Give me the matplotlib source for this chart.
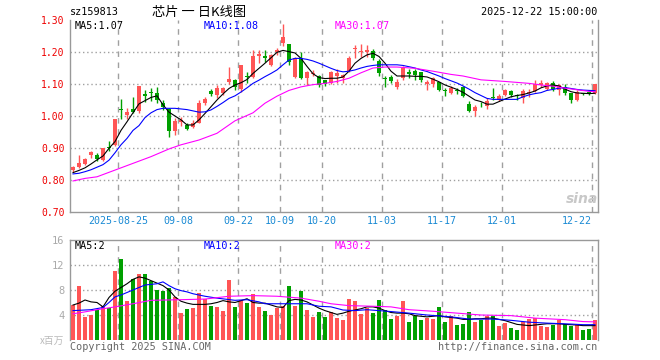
import numpy as np
import matplotlib
matplotlib.use('Agg')
import matplotlib.pyplot as plt

###############################################################################
# Daily candles (index 0 = 2025-08-13 ... 87 = 2025-12-22)
opens = [0.831, 0.840, 0.850, 0.877, 0.878, 0.862, 0.903, 0.909, 1.021, 1.004,
         1.022, 1.015, 1.069, 1.075, 1.073, 1.042, 1.021, 0.954, 0.982, 0.972,
         0.965, 0.979, 1.040, 1.079, 1.066, 1.071, 1.106, 1.112, 1.085, 1.126,
         1.121, 1.188, 1.186, 1.159, 1.200, 1.227, 1.225, 1.123, 1.180, 1.118,
         1.132, 1.126, 1.112, 1.102, 1.125, 1.120, 1.142, 1.208, 1.200, 1.200,
         1.204, 1.173, 1.118, 1.123, 1.090, 1.118, 1.137, 1.140, 1.136, 1.100,
         1.099, 1.105, 1.080, 1.071, 1.082, 1.092, 1.036, 1.016, 1.035, 1.032,
         1.058, 1.050, 1.066, 1.078, 1.067, 1.055, 1.072, 1.079, 1.098, 1.083,
         1.104, 1.081, 1.090, 1.071, 1.050, 1.071, 1.075, 1.071]
highs = [0.843, 0.878, 0.870, 0.892, 0.885, 0.900, 0.922, 0.991, 1.053, 1.024,
         1.058, 1.094, 1.081, 1.088, 1.090, 1.050, 1.024, 0.993, 0.998, 0.977,
         0.987, 1.050, 1.058, 1.083, 1.097, 1.092, 1.154, 1.115, 1.160, 1.138,
         1.206, 1.206, 1.206, 1.193, 1.212, 1.2875, 1.226, 1.185, 1.200, 1.140,
         1.145, 1.128, 1.113, 1.140, 1.146, 1.130, 1.188, 1.222, 1.224, 1.222,
         1.208, 1.177, 1.125, 1.128, 1.115, 1.156, 1.146, 1.146, 1.139, 1.112,
         1.123, 1.107, 1.086, 1.095, 1.087, 1.095, 1.047, 1.034, 1.044, 1.057,
         1.086, 1.068, 1.083, 1.081, 1.070, 1.083, 1.083, 1.112, 1.112, 1.106,
         1.110, 1.100, 1.100, 1.073, 1.081, 1.073, 1.077, 1.100]
lows = [0.826, 0.838, 0.847, 0.870, 0.860, 0.858, 0.890, 0.905, 0.990, 0.990,
        1.010, 1.008, 1.045, 1.047, 1.042, 1.019, 0.935, 0.940, 0.968, 0.956,
        0.961, 0.977, 1.034, 1.064, 1.055, 1.066, 1.100, 1.080, 1.075, 1.104,
        1.118, 1.167, 1.170, 1.155, 1.190, 1.220, 1.160, 1.118, 1.115, 1.097,
        1.125, 1.092, 1.095, 1.100, 1.102, 1.102, 1.139, 1.180, 1.185, 1.185,
        1.175, 1.125, 1.090, 1.104, 1.083, 1.112, 1.120, 1.112, 1.107, 1.081,
        1.092, 1.078, 1.063, 1.068, 1.068, 1.060, 1.013, 1.001, 1.029, 1.022,
        1.050, 1.047, 1.062, 1.058, 1.050, 1.042, 1.060, 1.076, 1.090, 1.080,
        1.079, 1.066, 1.066, 1.042, 1.048, 1.065, 1.067, 1.068]
closes = [0.840, 0.852, 0.867, 0.886, 0.866, 0.900, 0.901, 0.991, 1.018, 1.013,
          1.014, 1.094, 1.062, 1.071, 1.049, 1.027, 0.954, 0.984, 0.987, 0.960,
          0.979, 1.040, 1.052, 1.069, 1.086, 1.086, 1.115, 1.092, 1.158, 1.121,
          1.187, 1.193, 1.181, 1.190, 1.205, 1.248, 1.170, 1.180, 1.118, 1.138,
          1.135, 1.097, 1.100, 1.138, 1.135, 1.128, 1.182, 1.213, 1.203, 1.205,
          1.180, 1.133, 1.115, 1.108, 1.107, 1.150, 1.132, 1.128, 1.112, 1.106,
          1.120, 1.081, 1.078, 1.086, 1.079, 1.063, 1.016, 1.029, 1.033, 1.047,
          1.055, 1.063, 1.081, 1.066, 1.064, 1.079, 1.075, 1.100, 1.102, 1.102,
          1.083, 1.097, 1.073, 1.050, 1.076, 1.069, 1.069, 1.100]
# volume, millions
volume = [5.65, 8.7, 3.7, 3.95, 4.85, 5.5, 5.1, 11.1, 13.0, 6.3,
          9.8, 10.6, 10.6, 9.4, 8.05, 7.8, 8.4, 6.9, 4.4, 5.0,
          5.2, 7.6, 6.6, 5.5, 5.3, 4.7, 9.65, 5.3, 6.45, 5.9,
          7.4, 5.3, 4.7, 4.05, 5.05, 5.5, 8.7, 5.5, 7.9, 4.85,
          3.75, 4.55, 3.75, 4.55, 3.6, 3.15, 6.6, 6.2, 4.2, 5.1,
          4.4, 6.45, 4.75, 3.4, 3.8, 6.2, 2.95, 3.9, 3.25, 3.6,
          3.35, 5.35, 2.95, 3.8, 2.45, 2.6, 4.55, 2.95, 3.25, 3.8,
          3.9, 2.3, 2.8, 2.0, 1.65, 2.95, 3.4, 3.6, 2.3, 2.15,
          2.45, 3.25, 2.5, 2.3, 2.45, 1.65, 1.8, 3.25]

# moving averages
ma5 = [0.823, 0.830, 0.838, 0.850, 0.863, 0.875, 0.899, 0.920, 0.955, 0.982,
       1.010, 1.038, 1.048, 1.058, 1.063, 1.035, 1.012, 1.000, 0.988, 0.972,
       0.972, 0.988, 1.008, 1.029, 1.050, 1.069, 1.086, 1.097, 1.104, 1.114,
       1.133, 1.149, 1.165, 1.182, 1.199, 1.205, 1.201, 1.197, 1.180, 1.155,
       1.132, 1.120, 1.117, 1.118, 1.118, 1.122, 1.140, 1.165, 1.180, 1.191,
       1.196, 1.186, 1.165, 1.140, 1.125, 1.125, 1.125, 1.124, 1.124, 1.122,
       1.115, 1.107, 1.097, 1.090, 1.083, 1.074, 1.062, 1.050, 1.045, 1.037,
       1.037, 1.045, 1.053, 1.060, 1.064, 1.067, 1.072, 1.078, 1.088, 1.094,
       1.097, 1.094, 1.084, 1.076, 1.072, 1.071, 1.070, 1.071]
ma10 = [0.819, 0.821, 0.826, 0.832, 0.840, 0.848, 0.862, 0.885, 0.910, 0.930,
        0.955, 0.970, 0.995, 1.010, 1.020, 1.024, 1.024, 1.024, 1.022, 1.020,
        1.016, 1.012, 1.013, 1.019, 1.030, 1.042, 1.055, 1.063, 1.075, 1.088,
        1.102, 1.112, 1.123, 1.133, 1.144, 1.160, 1.175, 1.180, 1.180, 1.177,
        1.172, 1.165, 1.157, 1.149, 1.142, 1.138, 1.140, 1.144, 1.150, 1.155,
        1.158, 1.160, 1.160, 1.160, 1.160, 1.158, 1.154, 1.150, 1.144, 1.139,
        1.132, 1.125, 1.117, 1.110, 1.103, 1.094, 1.084, 1.073, 1.064, 1.055,
        1.052, 1.052, 1.052, 1.052, 1.052, 1.060, 1.066, 1.070, 1.073, 1.080,
        1.083, 1.087, 1.089, 1.086, 1.083, 1.081, 1.080, 1.079]
ma30_idx = [0, 2, 4, 7, 10, 13, 16, 18, 21, 24, 27, 30, 32, 34, 36, 38, 40, 42,
            44, 46, 48, 50, 52, 54, 57, 60, 63, 65, 68, 72, 76, 78, 80, 82, 84, 86, 87]
ma30 = [0.797, 0.805, 0.810, 0.831, 0.852, 0.873, 0.897, 0.910, 0.925, 0.946,
        0.985, 1.010, 1.040, 1.062, 1.080, 1.091, 1.098, 1.102, 1.108, 1.118,
        1.135, 1.150, 1.153, 1.153, 1.149, 1.140, 1.130, 1.125, 1.113, 1.108,
        1.102, 1.097, 1.093, 1.087, 1.082, 1.077, 1.076]

vma5 = [5.6, 5.9, 6.4, 6.1, 6.0, 5.3, 6.8, 7.8, 8.4, 9.0,
        9.7, 10.1, 9.9, 9.5, 9.1, 8.7, 8.0, 6.9, 6.2, 5.9,
        5.7, 5.7, 5.7, 5.8, 6.0, 6.3, 6.1, 6.0, 6.3, 6.6,
        6.0, 5.9, 5.9, 5.6, 5.3, 5.2, 6.3, 6.5, 6.4, 6.1,
        5.6, 5.1, 4.7, 4.4, 4.1, 4.3, 4.6, 4.8, 5.0, 5.3,
        5.3, 5.1, 4.7, 4.4, 4.3, 4.3, 4.2, 3.9, 3.8, 3.7,
        3.8, 3.9, 3.7, 3.6, 3.5, 3.3, 3.3, 3.4, 3.4, 3.5,
        3.5, 3.3, 3.1, 2.8, 2.5, 2.4, 2.3, 2.4, 2.5, 2.6,
        2.6, 2.6, 2.5, 2.45, 2.4, 2.3, 2.3, 2.3]
vma10_idx = [0, 3, 5, 6, 7, 8, 9, 10, 11, 12, 13, 14, 15, 16, 17, 18, 19, 20, 22,
             24, 27, 29, 31, 32, 35, 39, 41, 43, 45, 47, 49, 51, 53, 56, 59, 63,
             66, 70, 73, 76, 79, 83, 85, 87]
vma10 = [4.7, 4.85, 5.2, 6.0, 6.9, 7.2, 7.6, 8.0, 8.4, 8.8, 8.9, 9.0, 9.3, 8.7,
         8.2, 7.9, 7.7, 7.4, 7.0, 6.7, 6.35, 6.45, 6.1, 5.8, 5.8, 5.8, 5.4, 5.3,
         4.8, 4.7, 4.85, 4.7, 4.55, 4.3, 4.0, 3.7, 3.35, 3.35, 3.15, 2.85, 2.7,
         2.55, 2.45, 2.45]
vma30_idx = [0, 2, 4, 7, 10, 13, 18, 22, 26, 30, 34, 38, 41, 43, 46, 50, 53, 56,
             60, 64, 68, 73, 77, 82, 85, 87]
vma30 = [4.2, 4.5, 4.85, 5.3, 5.8, 6.35, 6.45, 6.55, 7.0, 7.1, 7.0, 6.7, 6.2,
         5.8, 5.5, 5.4, 5.3, 4.85, 4.6, 4.3, 4.0, 3.9, 3.5, 3.25, 2.95, 2.9]

date_idx = [8, 18, 28, 35, 42, 52, 62, 72, 87]
date_lbl = ['2025-08-25', '09-08', '09-22', '10-09', '10-20', '11-03', '11-17', '12-01', '12-22']
price_ticks = [0.70, 0.80, 0.90, 1.00, 1.10, 1.20, 1.30]
vol_ticks = [4, 8, 12, 16]
###############################################################################

RED = '#ff5555'
GREEN = '#00a000'
GRID = '#a0a0a0'
MONO = 'DejaVu Sans Mono'
CJK = ['Noto Sans CJK SC', 'DejaVu Sans']

W, H = 660, 360
fig = plt.figure(figsize=(6.6, 3.6), dpi=100)
ax1 = fig.add_axes([70 / W, 1 - 212 / H, 528 / W, 192 / H])
ax2 = fig.add_axes([70 / W, 1 - 340 / H, 528 / W, 100 / H])

x = np.arange(len(closes))
o = np.array(opens); c = np.array(closes)
up = c >= o
cols = [RED if u else GREEN for u in up]

# candles
ax1.vlines(x, lows, highs, colors=cols, linewidth=1, zorder=3)
body = np.maximum(np.abs(c - o), 0.0025)
ax1.bar(x, body, bottom=np.minimum(o, c), width=0.8, color=cols, linewidth=0, zorder=4)
ax1.plot(x, ma5, color='black', lw=0.8, zorder=5)
ax1.plot(x, ma10, color='#0000ff', lw=0.8, zorder=5)
ax1.plot(ma30_idx, ma30, color='#ff00ff', lw=0.8, zorder=5)

# volume
ax2.bar(x, volume, width=0.8, color=cols, linewidth=0, zorder=3)
ax2.plot(x, vma5, color='black', lw=0.8, zorder=5)
ax2.plot(vma10_idx, vma10, color='#0000ff', lw=0.8, zorder=5)
ax2.plot(vma30_idx, vma30, color='#ff00ff', lw=0.8, zorder=5)

for ax in (ax1, ax2):
    ax.set_xlim(-0.5, len(closes) - 0.5)
    for d in date_idx:
        ax.axvline(d - 0.5, color=GRID, lw=1, ls=(0, (4, 4)), zorder=1)
    for s in ax.spines.values():
        s.set_color('#999999')
        s.set_linewidth(1)
    ax.tick_params(length=0)

ax1.set_ylim(0.70, 1.30)
ax1.spines['top'].set_visible(False)
ax1.set_yticks(price_ticks)
ax1.set_yticklabels(['%.2f' % v for v in price_ticks], color='#ee0000', fontsize=7, family=MONO)
ax1.tick_params(axis='y', pad=4)
for v in price_ticks[1:-1]:
    ax1.axhline(v, color=GRID, lw=1, ls=(0, (1, 2)), zorder=1)
ax1.set_xticks([d - 0.5 for d in date_idx])
ax1.set_xticklabels(date_lbl, color='#1a8ad4', fontsize=7.2, family=MONO)
ax1.tick_params(axis='x', pad=3)
ax1.get_xticklabels()[-1].set_ha('right')

ax2.set_ylim(0, 16)
ax2.spines['bottom'].set_visible(False)
ax2.set_yticks(vol_ticks)
ax2.set_yticklabels([str(v) for v in vol_ticks], color='#aaaaaa', fontsize=7.5, family=MONO)
ax2.tick_params(axis='y', pad=4)
ax2.set_xticks([])
for v in vol_ticks[:-1]:
    ax2.axhline(v, color=GRID, lw=1, ls=(0, (1, 2)), zorder=1)

def ftxt(px, py, s, **kw):
    fig.text(px / W, 1 - py / H, s, va='center', **kw)

ftxt(70, 12, 'sz159813', fontsize=7.3, family=MONO)
ftxt(199, 12, '芯片 一 日K线图', fontsize=9.5, family=CJK, ha='center')
ftxt(597, 12, '2025-12-22 15:00:00', fontsize=7.3, family=MONO, ha='right')

ftxt(75, 26, 'MA5:1.07', fontsize=7.3, family=MONO, color='black')
ftxt(204, 26, 'MA10:1.08', fontsize=7.3, family=MONO, color='#0000ff')
ftxt(335, 26, 'MA30:1.07', fontsize=7.3, family=MONO, color='#ff00ff')
ftxt(75, 246, 'MA5:2', fontsize=7.3, family=MONO, color='black')
ftxt(204, 246, 'MA10:2', fontsize=7.3, family=MONO, color='#0000ff')
ftxt(335, 246, 'MA30:2', fontsize=7.3, family=MONO, color='#ff00ff')

ftxt(64, 341, 'x百万', fontsize=7, family=CJK, color='#bbbbbb', ha='right')
ftxt(70, 347, 'Copyright 2025 SINA.COM', fontsize=7.3, family=MONO, color='#666666')
ftxt(597, 347, 'http://finance.sina.com.cn', fontsize=7.3, family=MONO, color='#666666', ha='right')
ftxt(582, 199, 'sina', fontsize=10, fontweight='bold', style='italic', color='#c8c8c8', ha='center')

fig.savefig('out.png', dpi=100)
